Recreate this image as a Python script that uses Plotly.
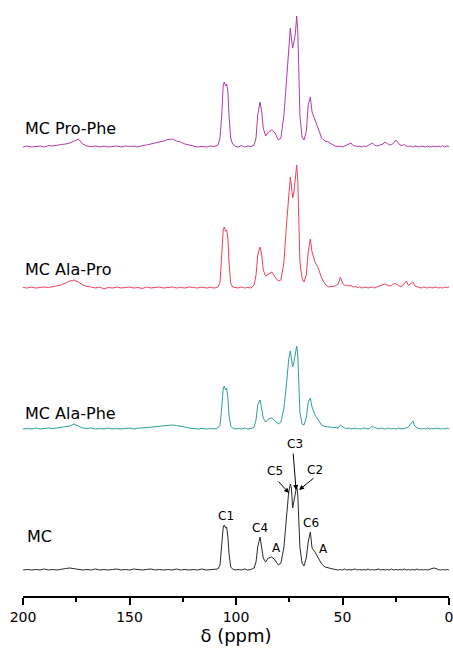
import plotly.graph_objects as go

# chemical shift grid (ppm)
PPM = [200, 198, 196, 194, 192, 190, 188, 186, 184, 182,
       180, 178, 176, 174, 172, 170, 168, 166, 164, 162,
       160, 158, 156, 154, 152, 150, 148, 146, 144, 142,
       140, 138, 136, 134, 132, 130, 128, 126, 124, 122,
       120, 118, 116, 114, 112,
       110, 108.5, 107.5, 106.7, 106.0, 105.5, 104.9, 104.4, 103.8, 103.3,
       102.5, 101.6, 100.5, 99.0, 97.5, 96.0, 94.5, 93.0, 91.5, 90.6,
       89.8, 88.7, 87.9, 87.2, 86.1, 84.8, 83.2, 81.7, 80.1, 78.9,
       77.5, 76.2, 75.3, 74.5, 74.0, 73.4, 72.8, 72.2, 71.5, 71.0,
       70.6, 70.0, 69.0, 68.1, 67.0, 66.1, 65.1, 64.3, 62.9, 61.4,
       59.8, 58.2, 56.7, 55.1, 53.5,
       52, 51, 50, 49, 48, 47, 46, 45, 44, 43,
       42, 41, 40, 39, 38, 37, 36, 35, 34, 33,
       32, 31, 30, 29, 28, 27, 26, 25, 24, 23,
       22, 21, 20, 19, 18, 17, 16, 15, 14, 13,
       12, 11, 10, 9, 8, 7, 6, 5, 4, 3,
       2, 1, 0]

PRO_PHE = [0, 1, 0, 0.5, 1, 0, 1.5, 1, 2, 2.5,
           3, 4, 6, 8, 3, 1, 0.5, 1, 0, 1,
           0, 0.5, 1, 0, 1, 0.5, 1, 0, 1.5, 2,
           3, 3.5, 5, 6, 7.5, 8, 6, 5, 3, 2,
           1, 0, 0.5, 0, 1,
           0.5, 2, 9, 32, 62, 65, 61, 63, 55, 32,
           9, 3, 1, 0, 1.5, 0, 1, 0.5, 2, 9,
           32, 45, 35, 19, 11, 15, 17, 14, 7, 9,
           32, 69, 102, 119, 109, 99, 105, 112, 131, 115,
           85, 32, 10, 7, 15, 42, 50, 35, 27, 19,
           9, 6, 5, 3, 1,
           0.5, 1, 0, 1, 1.5, 3, 4, 1.5, 1, 0.5,
           1, 0, 1, 0.5, 1.5, 2.5, 4, 2, 1, 1.5,
           2, 3, 5, 3, 2, 2.5, 4, 7, 5, 2,
           1.5, 2.5, 1, 0.5, 1, 0, 1, 0.5, 0, 1,
           0.5, 0, 1, 0, 0.5, 1, 0, 1, 0, 1.5,
           0, 1, 0.5]

ALA_PRO = [0.5, 0, 1, 0, 0.5, 1, 0.5, 1.5, 2, 3,
           5, 7, 8, 6, 3, 1.5, 1, 0, 1, -1,
           0.5, 0, 1, 0, 0.5, 1, 0, 0.5, -0.5, 1,
           0, 0.5, 1, 0, 0.5, 1, 0, 0.5, 0, 1,
           0.5, 0, 1, 0, 0.5,
           0, 1, 6, 33, 58, 61, 57, 58, 50, 26,
           5, 1, 0.5, 0, 1, 0, 0.5, 0, 3, 13,
           33, 41, 33, 18, 12, 14, 16, 11, 7, 8,
           26, 66, 96, 111, 103, 90, 96, 106, 123, 108,
           73, 26, 10, 6, 13, 36, 49, 36, 26, 20,
           10, 4, 1, 1.5, 2,
           4, 11, 5, 2.5, 3, 2, 2.5, 1, 1.5, 0.5,
           1, 0, 0.5, 1, 0, 0.5, 1, 0, 1, 1.5,
           2.5, 3.5, 4, 3, 2, 2.5, 4, 4.5, 3, 1.5,
           2, 5, 7, 2.5, 4, 6, 2, 1, 0.5, 0,
           1, 0.5, 0, 1, 0, 0.5, 1, 0, 0.5, 0,
           1, 0.5, 1]

ALA_PHE = [0, 0.5, 0, 1, 0, 0.5, 1, 0.5, 1, 1.5,
           2, 3, 5, 3, 1, 0.5, 1, 0, 0.5, 0,
           1, 0, 0.5, 0, 0.5, 1, 0, 1, 1, 1.5,
           2, 2.5, 3, 3.5, 4, 4, 3.5, 3, 2, 1,
           0.5, 0, 0.5, 0, 0.5,
           0, 1, 4, 21, 41, 43, 39, 41, 31, 14,
           3, 1, 0, 0.5, 0, 1, 0, 0.5, 2, 9,
           24, 29, 21, 11, 7, 10, 11, 8, 5, 7,
           21, 47, 69, 78, 72, 62, 67, 74, 83, 74,
           51, 17, 5, 4, 11, 27, 31, 22, 14, 9,
           4, 2.5, 2, 1.5, 1,
           1, 4, 2.5, 1, 0.5, 1, 0, 0.5, 1, 0,
           0.5, 0, 1, 0.5, 0, 1, 3, 1.5, 0.5, 0,
           1, 0.5, 0, 0.5, 1, 0, 0.5, 0, 1, 0.5,
           0, 0.5, 1, 2, 5, 8, 3, 1, 0.5, 0,
           0.5, 0, 1, 0, 0.5, 0, 1, 0.5, 0, 0.5,
           0, 1, 0]

MC = [0, 0.5, 0, 0.5, 0, 1, 0, 0.5, 0, 1,
      1.5, 2, 1.5, 0.5, 0, 0.5, 0, 1, 0, 0.5,
      0, 0.5, 1, 0, 0.5, 0, 1, 0.5, 0, 0.5,
      1, 0, 0.5, 0, 0.5, 0, 1, 0, 0.5, 0,
      0.5, 0, 1, 0, 0.5,
      0.5, 1, 5, 23, 43, 45, 42, 43, 33, 17,
      3, 1, 0, 0.5, 0, 1, 0, 0.5, 2, 8,
      23, 33, 23, 12, 8, 12, 13, 10, 5, 7,
      23, 53, 77, 86, 82, 62, 70, 78, 84, 75,
      53, 23, 7, 4, 12, 28, 38, 22, 18, 12,
      6, 3, 2, 1, 0.5,
      0, 0.5, 0, 1, 0, 0.5, 0, 0.5, 1, 0,
      0.5, 0, 0.5, 0, 1, 0, 0.5, 0, 0.5, 1,
      0, 0.5, 0, 0.5, 0, 1, 0, 0.5, 0, 0.5,
      0, 1, 0, 0.5, 0, 0.5, 0, 1, 0, 0.5,
      0, 0.5, 0, 1, 1.5, 2, 1, 0.5, 0, 0.5,
      0, 0.5, 0]

SAMPLES = ["MC Pro-Phe", "MC Ala-Pro", "MC Ala-Phe", "MC"]
SPECTRA = [PRO_PHE, ALA_PRO, ALA_PHE, MC]

PEAK_LABELS = ["C1", "C4", "A", "C5", "C3", "C2", "C6", "A"]
PEAK_PPM = [104.7, 88.7, 80.8, 81.7, 72.3, 62.9, 64.8, 58.7]

X_TICKS = [200, 150, 100, 50, 0]
X_MINOR = [175, 125, 75, 25]

# styling / layout
COLORS = ["#b03aa6", "#f0405a", "#2f9e9c", "#2a2a2a"]
OFFSETS = [449, 308, 167, 26]
LABEL_Y = [468, 327, 183, 60]
PEAK_LABEL_Y = [80, 68, 48, 125, 152, 126, 73, 47]
FONT = "DejaVu Sans, Verdana, sans-serif"

fig = go.Figure()
for y, c, off in zip(SPECTRA, COLORS, OFFSETS):
    fig.add_trace(go.Scatter(
        x=PPM, y=[v + off for v in y], mode="lines",
        line=dict(color=c, width=1), showlegend=False, hoverinfo="skip"))

ann = []
for name, ly in zip(SAMPLES, LABEL_Y):
    ann.append(dict(x=0 if name != "MC" else 0.005, xref="paper", y=ly, yref="y",
                    text=name, showarrow=False, xanchor="left", yanchor="middle",
                    font=dict(family=FONT, size=16, color="black")))
for t, px, py in zip(PEAK_LABELS, PEAK_PPM, PEAK_LABEL_Y):
    ann.append(dict(x=px, y=py, xref="x", yref="y", text=t, showarrow=False,
                    xanchor="center", yanchor="middle",
                    font=dict(family=FONT, size=12, color="black")))

# arrows (tail -> head)
ARROWS = [((80.75, 116), (75.1, 103)), ((73.2, 144), (71.8, 106)), ((62.9, 119), (70.4, 106))]
for (tx, ty), (hx, hy) in ARROWS:
    ann.append(dict(x=hx, y=hy, ax=tx, ay=ty, xref="x", yref="y", axref="x", ayref="y",
                    text="", showarrow=True, arrowhead=2, arrowsize=1, arrowwidth=1,
                    arrowcolor="black"))

fig.update_layout(
    width=453, height=648,
    margin=dict(l=23, r=4, t=0, b=52),
    plot_bgcolor="white", paper_bgcolor="white",
    annotations=ann,
    xaxis=dict(range=[200, 0], showgrid=False, zeroline=False,
               showline=True, linecolor="black", linewidth=2,
               ticks="outside", ticklen=7, tickwidth=2, tickcolor="black",
               tickvals=X_TICKS, ticktext=[str(v) for v in X_TICKS],
               ticklabeloverflow="allow",
               tickfont=dict(family=FONT, size=14, color="black"),
               minor=dict(tickvals=X_MINOR, ticks="outside", ticklen=4,
                          tickwidth=2, tickcolor="black", showgrid=False),
               title=dict(text="δ (ppm)", standoff=6,
                          font=dict(family=FONT, size=18, color="black"))),
    yaxis=dict(range=[0, 596], visible=False, fixedrange=True),
)

fig.write_html("out.html")
